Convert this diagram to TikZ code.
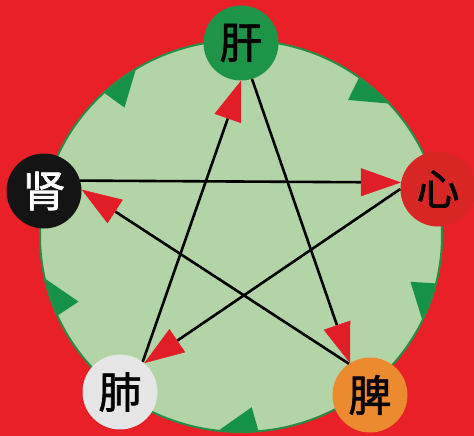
\documentclass[tikz,border=0pt]{standalone}
\usepackage{fontspec}
\newfontfamily\cjk[FakeBold=1.5]{Noto Sans CJK SC}
\usetikzlibrary{arrows.meta}
\definecolor{bgred}{RGB}{233,32,39}
\definecolor{ringfill}{RGB}{178,212,166}
\definecolor{ringgreen}{RGB}{40,140,70}
\definecolor{trigreen}{RGB}{22,145,72}
\definecolor{gangreen}{RGB}{30,148,72}
\definecolor{xinred}{RGB}{215,38,36}
\definecolor{piorange}{RGB}{236,138,48}
\definecolor{feigray}{RGB}{230,230,230}
\definecolor{shenblack}{RGB}{20,20,20}
\definecolor{arrowred}{RGB}{225,30,40}
\begin{document}
\begin{tikzpicture}[x=1pt,y=-1pt,
  organ/.style={circle, minimum size=75pt, inner sep=0pt, font=\cjk\fontsize{43}{43}\selectfont},
  ctrl/.style={draw=black, line width=2.6pt, -{Triangle[length=40pt,width=28pt,line width=0.5pt,fill=arrowred,color=arrowred]}},
  marker/.style={fill=trigreen}
]
\fill[bgred] (0,0) rectangle (474,436);
\useasboundingbox (0,0) rectangle (474,436);
\fill[ringfill] (241,236) ellipse [x radius=201, y radius=196];
\foreach \b in {54,133,-14,-85,-156}{
  \fill[marker] ({241+201*cos(\b)},{236-196*sin(\b)})
    -- ({241+201*cos(\b-4)},{236-196*sin(\b-4)})
    -- ({241+201*cos(\b-8)},{236-196*sin(\b-8)})
    -- ({241+201*cos(\b-11.5)},{236-196*sin(\b-11.5)})
    -- ({241+0.875*201*cos(\b-1.5)},{236-0.875*196*sin(\b-1.5)}) -- cycle;
}
\draw[ringgreen, line width=2pt] (241,236) ellipse [x radius=201, y radius=196];
\node[organ, fill=gangreen] (gan) at (241,43) {肝};
\node[organ, fill=xinred] (xin) at (438,189) {心};
\node[organ, fill=piorange] (pi) at (370,395) {脾};
\node[organ, fill=feigray] (fei) at (120,392) {肺};
\node[organ, fill=shenblack, text=white] (shen) at (44,191) {肾};
\draw[ctrl] (fei.53) -- (gan.-90);
\draw[ctrl] (gan.-73) -- (pi.122);
\draw[ctrl] (pi.124) -- (shen.2);
\draw[ctrl] (shen.16) -- (xin.170);
\draw[ctrl] (xin.180) -- (fei.50);
\end{tikzpicture}
\end{document}
